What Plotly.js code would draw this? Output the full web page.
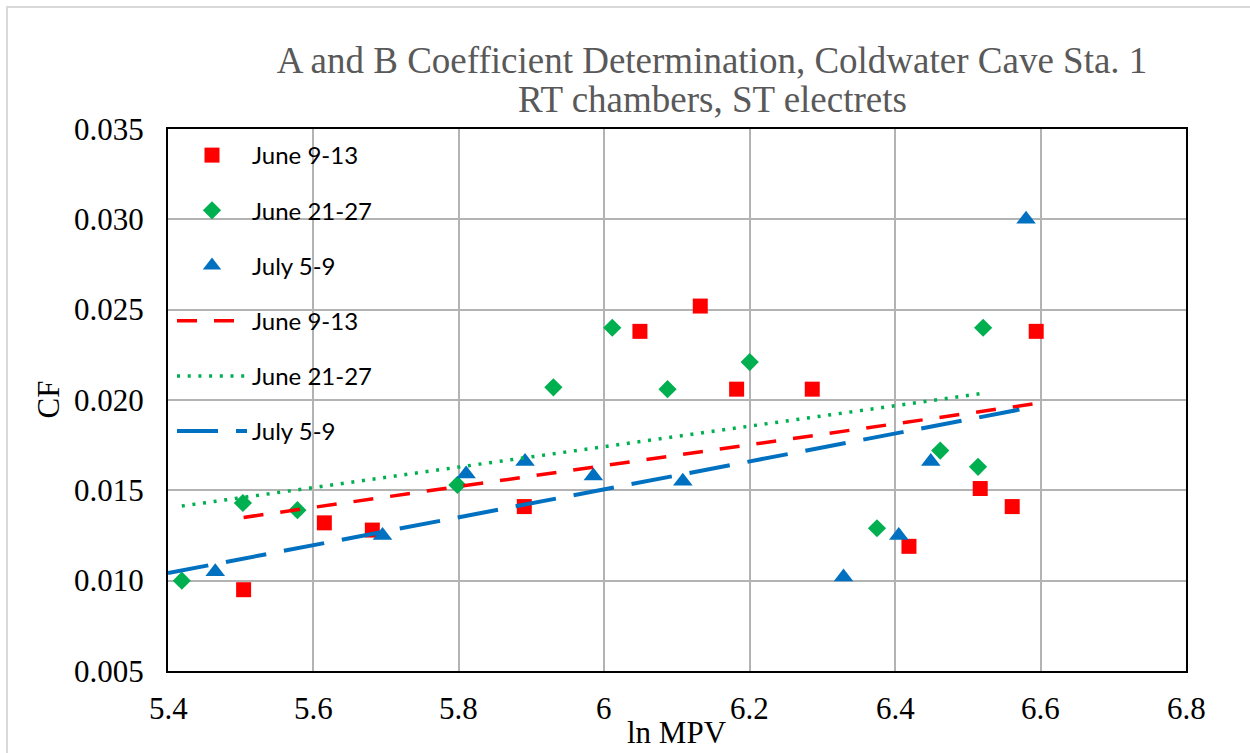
<!DOCTYPE html>
<html>
<head>
<meta charset="utf-8">
<script src="https://cdn.plot.ly/plotly-3.0.1.min.js"></script>
<style>html,body{margin:0;padding:0;background:#fff;}#chart{width:1250px;height:753px;}</style>
</head>
<body>
<div id="chart"></div>
<script>
// ---- data ----
const seriesNames = ["June 9-13", "June 21-27", "July 5-9"];

const june9X  = [5.504, 5.615, 5.681, 5.890, 6.049, 6.132, 6.182, 6.286, 6.419, 6.517, 6.561, 6.594];
const june9Y  = [0.0095, 0.0132, 0.0128, 0.0141, 0.0238, 0.0252, 0.0206, 0.0206, 0.0119, 0.0151, 0.0141, 0.0238];

const june21X = [5.419, 5.503, 5.578, 5.798, 5.930, 6.011, 6.087, 6.200, 6.375, 6.462, 6.514, 6.521];
const june21Y = [0.0100, 0.0143, 0.0139, 0.0153, 0.0207, 0.0240, 0.0206, 0.0221, 0.0129, 0.0172, 0.0163, 0.0240];

const july5X  = [5.465, 5.695, 5.810, 5.891, 5.985, 6.108, 6.329, 6.405, 6.449, 6.580];
const july5Y  = [0.0105, 0.0125, 0.0159, 0.0166, 0.0158, 0.0155, 0.0102, 0.0125, 0.0166, 0.0300];

// Excel trendline backward forecast (x units) per series
const trendBackward = [0, 0, 0.065];

const xTicks = [5.4, 5.6, 5.8, 6.0, 6.2, 6.4, 6.6, 6.8];
const yTicks = [0.005, 0.010, 0.015, 0.020, 0.025, 0.030, 0.035];

const titleLine1 = "A and B Coefficient Determination, Coldwater Cave Sta. 1";
const titleLine2 = "RT chambers, ST electrets";
const xTitle = "ln MPV";
const yTitle = "CF";

// ---- helpers ----
function linFit(xs, ys) {
  const n = xs.length;
  const mx = xs.reduce((a, b) => a + b, 0) / n;
  const my = ys.reduce((a, b) => a + b, 0) / n;
  let sxy = 0, sxx = 0;
  for (let i = 0; i < n; i++) { sxy += (xs[i] - mx) * (ys[i] - my); sxx += (xs[i] - mx) ** 2; }
  const m = sxy / sxx;
  return { m: m, b: my - m * mx };
}
function trendLine(xs, ys, back) {
  const f = linFit(xs, ys);
  const x0 = Math.min(...xs) - back, x1 = Math.max(...xs);
  return { x: [x0, x1], y: [f.m * x0 + f.b, f.m * x1 + f.b] };
}

const colors = ["#FF0000", "#00B050", "#0070C0"];
const xs = [june9X, june21X, july5X];
const ys = [june9Y, june21Y, july5Y];
const symbols = ["square", "diamond", "triangle-up"];
const sizes = [15, 14, 17];
const dashes = ["20px,17px", "3px,7.7px", "41px,18px"];
const widths = [3.5, 3.5, 4];

const traces = [];
for (let i = 0; i < 3; i++) {
  traces.push({
    type: "scatter", mode: "markers", name: seriesNames[i],
    x: xs[i], y: ys[i], legendgroup: "m" + i,
    marker: { symbol: symbols[i], size: sizes[i], color: colors[i], line: { width: 0 } }
  });
}
for (let i = 0; i < 3; i++) {
  const t = trendLine(xs[i], ys[i], trendBackward[i]);
  traces.push({
    type: "scatter", mode: "lines", name: seriesNames[i],
    x: t.x, y: t.y, legendgroup: "t" + i,
    line: { color: colors[i], width: widths[i], dash: dashes[i] }
  });
}

const serif = "Liberation Serif";
const W = 1250, H = 753, L = 168, R = 64, T = 129, B = 82;
const pw = W - L - R, ph = H - T - B;

// tick labels drawn as annotations in serif font, positioned by the axes from the tick arrays
const tickAnnots = [];
xTicks.forEach(v => tickAnnots.push({
  text: String(+v.toFixed(1)), showarrow: false, xref: "x", yref: "paper",
  x: v, y: 0, yanchor: "top", yshift: -18, xanchor: "center",
  font: { family: serif, size: 31, color: "#000" }
}));
yTicks.forEach(v => tickAnnots.push({
  text: v.toFixed(3), showarrow: false, xref: "paper", yref: "y",
  x: 0, y: v, xanchor: "right", xshift: -22, yanchor: "middle",
  font: { family: serif, size: 31, color: "#000" }
}));

const layout = {
  width: W, height: H,
  font: { family: serif, size: 31, color: "#000" },
  paper_bgcolor: "#ffffff", plot_bgcolor: "#ffffff",
  margin: { l: L, r: R, t: T, b: B, pad: 0 },
  title: {
    text: titleLine1,
    font: { family: serif, size: 37, color: "#595959" },
    x: 712 / W, xanchor: "center", xref: "container",
    y: 1 - 60 / H, yanchor: "middle", yref: "container"
  },
  annotations: [{
    text: titleLine2, showarrow: false,
    xref: "paper", yref: "paper",
    x: (712 - L) / pw, xanchor: "center",
    y: (H - B - 100) / ph, yanchor: "middle",
    font: { family: serif, size: 37, color: "#595959" }
  }, {
    text: xTitle, showarrow: false, xref: "paper", yref: "paper",
    x: 0.5, xanchor: "center", y: 0, yanchor: "bottom", yshift: -(B - 1),
    font: { family: serif, size: 31, color: "#000" }
  }, {
    text: yTitle, showarrow: false, xref: "paper", yref: "paper", textangle: -90,
    x: 0, xanchor: "right", xshift: -101, y: 0.5, yanchor: "middle",
    font: { family: serif, size: 31, color: "#000" }
  }].concat(tickAnnots),
  xaxis: {
    range: [5.4, 6.8], tickvals: xTicks, showticklabels: false,
    showgrid: true, gridcolor: "#b3b3b3", gridwidth: 2,
    showline: true, linecolor: "#000", linewidth: 2, mirror: true,
    ticks: "", zeroline: false
  },
  yaxis: {
    range: [0.005, 0.035], tickvals: yTicks, showticklabels: false,
    showgrid: true, gridcolor: "#b3b3b3", gridwidth: 2,
    showline: true, linecolor: "#000", linewidth: 2, mirror: true,
    ticks: "", zeroline: false
  },
  legend: {
    x: 4 / pw, xanchor: "left", y: 1 - 4 / ph, yanchor: "top",
    bgcolor: "rgba(0,0,0,0)", borderwidth: 0,
    font: { family: "Lato", size: 24, color: "#000" },
    itemwidth: 70, tracegroupgap: 21, traceorder: "grouped"
  },
  shapes: [{
    type: "rect", xref: "paper", yref: "paper",
    x0: (7 - L) / pw, x1: (W + 20 - L) / pw,
    y0: -(H + 20 - (H - B)) / ph, y1: (H - B - 7) / ph,
    line: { color: "#d9d9d9", width: 2 }, fillcolor: "rgba(0,0,0,0)", layer: "below"
  }],
  showlegend: true
};

Plotly.newPlot("chart", traces, layout, { displayModeBar: false, staticPlot: true });
</script>
</body>
</html>
